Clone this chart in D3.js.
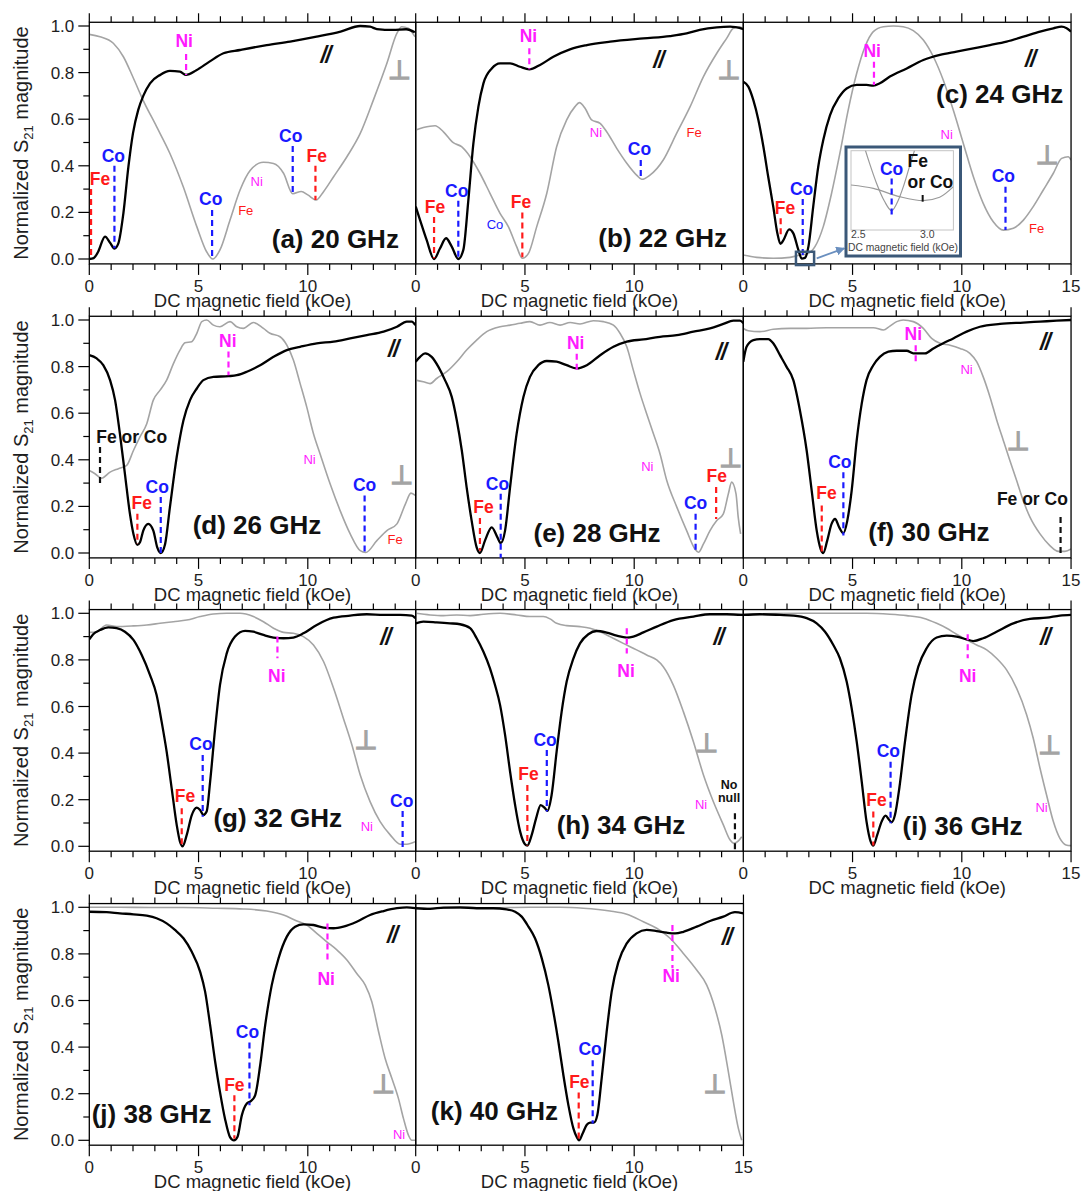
<!DOCTYPE html>
<html><head><meta charset="utf-8">
<script src="https://cdn.jsdelivr.net/npm/d3@7/dist/d3.min.js"></script>
<style>
body{margin:0;background:#fff;}
text{font-family:"Liberation Sans",Arial,Helvetica,sans-serif;}
</style>
</head><body>
<svg id="chart" width="1081" height="1191"></svg>
<script>
// ---------------- DATA ----------------
const panelLetters = ["a","b","c","d","e","f","g","h","i","j","k"];
const frequenciesGHz = [20,22,24,26,28,30,32,34,36,38,40];
const xTickValues = [0,5,10,15];
const yTickValues = [0,0.2,0.4,0.6,0.8,1.0];
const xAxisTitle = "DC magnetic field (kOe)";

// parallel (black) and perpendicular (gray) curves: [field kOe, normalized |S21|]
const par20 = [[0,0.0],[0.2,0.004],[0.4,0.03],[0.72,0.096],[0.95,0.07],[1.15,0.045],[1.33,0.067],[1.56,0.196],[1.79,0.396],[2.0,0.54],[2.24,0.64],[2.47,0.70],[2.78,0.754],[3.24,0.79],[3.69,0.807],[4.15,0.804],[4.43,0.79],[4.9,0.81],[5.5,0.847],[6.14,0.883],[6.9,0.897],[8.12,0.918],[9.19,0.933],[10.4,0.954],[11.5,0.976],[12.4,1.0],[12.85,0.997],[13.16,0.987],[13.9,0.983],[14.5,0.986],[14.9,0.973]];
const perp20 = [[0,0.964],[0.49,0.954],[1.1,0.926],[1.56,0.868],[2.0,0.78],[2.47,0.68],[3.08,0.568],[3.69,0.453],[4.3,0.31],[4.92,0.139],[5.37,0.031],[5.65,0.0],[5.98,0.039],[6.44,0.167],[6.9,0.296],[7.36,0.38],[7.97,0.415],[8.43,0.41],[8.89,0.368],[9.31,0.28],[9.7,0.29],[10.0,0.275],[10.38,0.253],[10.72,0.289],[11.18,0.353],[11.79,0.439],[12.4,0.539],[13.0,0.682],[13.62,0.84],[14.08,0.969],[14.3,0.997],[14.6,0.99],[14.9,0.954]];
const par22 = [[0,0.225],[0.2,0.167],[0.5,0.082],[0.84,0.0],[1.11,0.045],[1.39,0.089],[1.65,0.053],[1.95,0.0],[2.18,0.039],[2.41,0.253],[2.64,0.496],[2.87,0.654],[3.1,0.754],[3.48,0.818],[3.86,0.84],[4.32,0.84],[4.77,0.825],[5.2,0.814],[5.69,0.833],[6.3,0.868],[7.06,0.9],[7.83,0.918],[8.9,0.933],[10.42,0.947],[11.64,0.957],[12.4,0.968],[13.0,0.983],[13.78,0.994],[14.39,0.997],[15.0,0.987]];
const perp22 = [[0,0.554],[0.35,0.564],[0.885,0.572],[1.27,0.546],[1.72,0.499],[2.1,0.482],[2.49,0.439],[2.94,0.368],[3.4,0.282],[3.86,0.196],[4.24,0.139],[4.62,0.053],[4.88,0.003],[5.16,0.024],[5.54,0.139],[6.0,0.282],[6.45,0.482],[6.91,0.597],[7.29,0.654],[7.49,0.671],[7.75,0.647],[8.05,0.597],[8.44,0.582],[8.74,0.546],[9.2,0.475],[9.66,0.411],[10.11,0.36],[10.34,0.342],[10.72,0.36],[11.33,0.425],[11.94,0.539],[12.56,0.654],[13.17,0.783],[13.78,0.883],[14.23,0.947],[14.54,0.99],[14.84,0.997],[15,0.985]];
const par24 = [[0,0.761],[0.23,0.74],[0.46,0.682],[0.69,0.597],[0.92,0.482],[1.14,0.353],[1.37,0.225],[1.56,0.11],[1.7,0.065],[1.83,0.08],[2.1,0.127],[2.29,0.11],[2.52,0.039],[2.67,0.002],[2.82,0.005],[2.98,0.053],[3.2,0.225],[3.43,0.396],[3.66,0.511],[3.97,0.618],[4.35,0.69],[4.73,0.732],[5.19,0.747],[5.64,0.747],[5.95,0.744],[6.25,0.754],[6.71,0.783],[7.48,0.818],[8.24,0.854],[9.0,0.876],[9.76,0.89],[10.53,0.904],[11.29,0.918],[12.05,0.933],[12.82,0.954],[13.58,0.976],[14.19,0.99],[14.57,0.997],[14.8,0.99],[15.0,0.976]];
const perp24 = [[0,0.017],[0.61,0.007],[1.37,0.003],[2.14,0.007],[2.59,0.017],[2.9,0.021],[3.28,0.053],[3.66,0.139],[4.04,0.282],[4.42,0.453],[4.8,0.639],[5.19,0.797],[5.57,0.911],[5.95,0.976],[6.41,0.997],[6.87,1.0],[7.32,0.997],[7.78,0.98],[8.24,0.94],[8.7,0.868],[9.15,0.768],[9.61,0.639],[10.07,0.496],[10.53,0.353],[10.98,0.239],[11.44,0.16],[11.9,0.124],[12.36,0.132],[12.82,0.167],[13.27,0.225],[13.73,0.296],[14.19,0.368],[14.57,0.432],[14.87,0.439],[15,0.425]];
const par26 = [[0,0.849],[0.34,0.835],[0.64,0.806],[0.95,0.742],[1.18,0.656],[1.4,0.512],[1.63,0.34],[1.86,0.168],[2.02,0.082],[2.2,0.035],[2.32,0.046],[2.47,0.096],[2.7,0.125],[2.93,0.096],[3.11,0.024],[3.27,0.0],[3.47,0.039],[3.69,0.197],[4.0,0.412],[4.31,0.57],[4.61,0.656],[4.92,0.706],[5.22,0.742],[5.68,0.756],[6.37,0.759],[6.75,0.763],[7.21,0.778],[7.82,0.806],[8.43,0.842],[9.04,0.871],[9.65,0.885],[10.41,0.9],[11.18,0.907],[11.94,0.921],[12.7,0.935],[13.47,0.95],[14.08,0.971],[14.53,0.993],[14.76,0.993],[14.92,0.978]];
const perp26 = [[0,0.354],[0.26,0.34],[0.56,0.321],[0.95,0.347],[1.33,0.362],[1.71,0.376],[2.02,0.44],[2.32,0.498],[2.63,0.555],[2.93,0.656],[3.24,0.699],[3.54,0.742],[3.85,0.813],[4.15,0.871],[4.38,0.902],[4.69,0.907],[4.92,0.943],[5.15,0.993],[5.37,1.0],[5.68,0.978],[5.98,0.971],[6.44,0.993],[6.75,0.971],[7.05,0.964],[7.51,0.989],[7.97,0.964],[8.27,0.943],[8.73,0.928],[9.04,0.892],[9.34,0.828],[9.65,0.727],[9.95,0.627],[10.26,0.512],[10.56,0.426],[11.02,0.297],[11.48,0.182],[11.94,0.082],[12.4,0.01],[12.65,0.002],[13.16,0.053],[13.62,0.096],[14.08,0.125],[14.47,0.211],[14.72,0.257],[14.92,0.247]];
const par28 = [[0,0.821],[0.2,0.842],[0.43,0.857],[0.73,0.842],[1.04,0.799],[1.34,0.742],[1.65,0.67],[1.88,0.57],[2.11,0.44],[2.33,0.283],[2.56,0.139],[2.79,0.024],[2.94,0.0],[3.17,0.053],[3.48,0.11],[3.74,0.067],[3.89,0.042],[4.09,0.096],[4.32,0.283],[4.62,0.512],[4.93,0.67],[5.23,0.756],[5.61,0.806],[6.0,0.824],[6.45,0.821],[6.91,0.806],[7.37,0.792],[7.83,0.806],[8.44,0.849],[9.05,0.885],[9.66,0.907],[10.42,0.917],[11.18,0.928],[11.95,0.935],[12.71,0.95],[13.47,0.964],[14.08,0.983],[14.54,0.997],[14.84,0.997],[15,0.986]];
const perp28 = [[0,0.742],[0.35,0.735],[0.66,0.727],[0.96,0.749],[1.42,0.778],[1.88,0.821],[2.33,0.871],[2.79,0.914],[3.25,0.95],[3.86,0.971],[4.32,0.978],[4.78,0.986],[5.23,0.993],[5.69,0.978],[6.14,0.989],[6.61,0.978],[7.07,0.989],[7.52,0.983],[8.13,0.997],[8.59,0.993],[9.05,0.978],[9.35,0.943],[9.66,0.885],[9.96,0.785],[10.27,0.684],[10.57,0.598],[10.88,0.512],[11.18,0.426],[11.49,0.311],[11.95,0.197],[12.4,0.096],[12.78,0.017],[12.94,0.003],[13.17,0.039],[13.47,0.096],[13.78,0.139],[14.08,0.168],[14.31,0.254],[14.46,0.304],[14.66,0.254],[14.76,0.154],[14.87,0.082]];
const par30 = [[0,0.821],[0.15,0.885],[0.46,0.914],[0.76,0.918],[1.14,0.918],[1.37,0.9],[1.68,0.849],[1.98,0.799],[2.29,0.742],[2.59,0.613],[2.9,0.44],[3.13,0.268],[3.36,0.096],[3.54,0.017],[3.66,0.0],[3.84,0.053],[4.04,0.125],[4.2,0.146],[4.39,0.11],[4.58,0.085],[4.76,0.139],[4.96,0.268],[5.19,0.483],[5.42,0.641],[5.64,0.742],[5.95,0.806],[6.25,0.842],[6.64,0.864],[7.02,0.868],[7.48,0.868],[7.78,0.857],[8.32,0.857],[8.7,0.878],[9.15,0.9],[9.61,0.921],[10.22,0.95],[10.83,0.971],[11.75,0.983],[12.81,0.989],[13.58,0.993],[14.34,0.997],[15.0,1.0]];
const perp30 = [[0,0.964],[0.23,0.954],[0.76,0.95],[1.37,0.96],[2.14,0.964],[2.9,0.964],[3.81,0.967],[4.88,0.967],[5.95,0.967],[6.41,0.957],[6.71,0.974],[7.02,0.993],[7.32,1.0],[7.78,0.993],[8.24,0.964],[8.62,0.921],[9.0,0.9],[9.46,0.892],[9.92,0.878],[10.37,0.857],[10.68,0.821],[10.98,0.756],[11.29,0.67],[11.6,0.57],[11.9,0.483],[12.2,0.397],[12.51,0.311],[12.81,0.225],[13.12,0.154],[13.58,0.082],[14.03,0.032],[14.42,0.007],[14.72,0.007],[15,0.017]];
const par32 = [[0,0.888],[0.18,0.91],[0.49,0.928],[0.87,0.94],[1.25,0.936],[1.63,0.921],[2.02,0.886],[2.4,0.821],[2.78,0.735],[3.08,0.649],[3.31,0.535],[3.54,0.406],[3.77,0.249],[4.0,0.092],[4.15,0.02],[4.27,0.0],[4.46,0.049],[4.69,0.134],[4.92,0.166],[5.07,0.156],[5.22,0.134],[5.37,0.149],[5.53,0.278],[5.76,0.506],[5.98,0.692],[6.29,0.828],[6.67,0.9],[7.13,0.925],[7.51,0.921],[7.97,0.907],[8.43,0.896],[8.89,0.893],[9.34,0.896],[9.8,0.914],[10.41,0.95],[11.18,0.981],[11.94,0.99],[12.7,0.996],[13.47,0.993],[14.23,0.993],[14.76,0.99],[14.92,0.979]];
const perp32 = [[0,0.918],[0.34,0.921],[0.79,0.95],[1.25,0.943],[2.02,0.946],[2.63,0.95],[3.24,0.957],[3.85,0.964],[4.46,0.971],[5.07,0.986],[5.68,0.997],[6.29,1.0],[6.9,1.0],[7.51,0.986],[7.97,0.964],[8.43,0.936],[8.89,0.918],[9.34,0.914],[9.8,0.9],[10.26,0.864],[10.72,0.793],[11.18,0.678],[11.63,0.549],[12.02,0.435],[12.4,0.306],[12.85,0.192],[13.31,0.106],[13.77,0.049],[14.23,0.009],[14.53,0.009],[14.92,0.02]];
const par34 = [[0,0.957],[0.35,0.964],[0.96,0.961],[1.57,0.957],[2.03,0.953],[2.49,0.936],[2.79,0.893],[3.1,0.835],[3.4,0.764],[3.63,0.692],[3.86,0.607],[4.09,0.478],[4.32,0.32],[4.55,0.177],[4.78,0.063],[5.0,0.009],[5.11,0.003],[5.31,0.049],[5.51,0.12],[5.72,0.177],[5.92,0.163],[6.03,0.152],[6.22,0.22],[6.45,0.406],[6.68,0.578],[6.91,0.707],[7.22,0.807],[7.52,0.871],[7.9,0.91],[8.28,0.924],[8.74,0.917],[9.2,0.904],[9.66,0.896],[9.96,0.9],[10.42,0.918],[11.03,0.943],[11.79,0.971],[12.71,0.986],[13.47,0.996],[14.23,0.996],[15,0.993]];
const perp34 = [[0,1.0],[0.66,0.993],[1.27,0.99],[1.88,0.993],[2.49,0.99],[3.1,0.996],[3.86,1.0],[4.62,0.993],[5.23,0.986],[5.84,0.986],[6.15,0.976],[6.45,0.957],[6.91,0.947],[7.52,0.943],[7.98,0.936],[8.44,0.921],[8.89,0.9],[9.5,0.871],[10.11,0.843],[10.57,0.821],[11.03,0.8],[11.33,0.771],[11.79,0.692],[12.25,0.578],[12.71,0.449],[13.17,0.306],[13.62,0.192],[14.08,0.092],[14.39,0.027],[14.57,0.013],[14.77,0.023],[14.92,0.041]];
const par36 = [[0,0.993],[0.76,0.996],[1.68,0.993],[2.29,0.99],[2.9,0.979],[3.36,0.957],[3.74,0.921],[4.12,0.864],[4.42,0.807],[4.73,0.707],[4.96,0.592],[5.19,0.449],[5.42,0.278],[5.64,0.106],[5.83,0.02],[5.95,0.003],[6.13,0.049],[6.33,0.106],[6.51,0.132],[6.68,0.113],[6.79,0.103],[6.94,0.134],[7.14,0.249],[7.4,0.449],[7.7,0.649],[8.01,0.771],[8.39,0.85],[8.85,0.896],[9.31,0.904],[9.76,0.9],[10.22,0.888],[10.53,0.881],[10.98,0.893],[11.59,0.921],[12.36,0.957],[13.12,0.976],[13.88,0.981],[14.49,0.99],[15,0.993]];
const perp36 = [[0,0.996],[1.37,0.999],[2.9,1.0],[4.42,1.0],[5.64,1.0],[6.71,0.996],[7.48,0.99],[8.24,0.979],[8.85,0.957],[9.31,0.936],[9.76,0.91],[10.22,0.886],[10.68,0.864],[11.14,0.843],[11.59,0.807],[12.05,0.757],[12.51,0.678],[12.97,0.564],[13.27,0.464],[13.58,0.335],[13.88,0.22],[14.19,0.106],[14.49,0.034],[14.77,0.006],[15,0.003]];
const par38 = [[0,0.981],[0.79,0.979],[1.4,0.974],[2.02,0.97],[2.63,0.964],[3.08,0.953],[3.54,0.931],[3.92,0.903],[4.31,0.867],[4.69,0.809],[5.07,0.724],[5.3,0.638],[5.53,0.494],[5.76,0.337],[5.98,0.208],[6.21,0.093],[6.44,0.014],[6.62,0.0],[6.78,0.014],[6.98,0.107],[7.21,0.158],[7.39,0.168],[7.59,0.193],[7.82,0.322],[8.05,0.494],[8.35,0.666],[8.66,0.781],[9.04,0.874],[9.42,0.917],[9.8,0.927],[10.26,0.924],[10.72,0.913],[11.18,0.91],[11.63,0.917],[12.24,0.938],[12.85,0.967],[13.47,0.984],[14.08,0.996],[14.53,1.0],[14.92,0.996]];
const perp38 = [[0,1.0],[0.49,1.0],[0.95,1.0],[1.4,1.0],[2.78,0.999],[4.31,0.999],[5.83,0.996],[7.05,0.993],[8.12,0.984],[8.89,0.967],[9.5,0.941],[9.95,0.924],[10.41,0.888],[10.87,0.852],[11.33,0.817],[11.79,0.774],[12.24,0.716],[12.63,0.666],[12.93,0.595],[13.24,0.466],[13.54,0.351],[13.85,0.265],[14.15,0.179],[14.38,0.093],[14.61,0.021],[14.76,0.0],[14.92,0.0]];
const par40 = [[0,0.996],[0.66,0.993],[1.27,0.999],[2.03,1.0],[2.79,0.996],[3.55,0.996],[4.16,0.991],[4.55,0.981],[4.85,0.96],[5.16,0.917],[5.46,0.867],[5.77,0.781],[6.07,0.666],[6.3,0.552],[6.53,0.423],[6.76,0.279],[6.99,0.15],[7.22,0.05],[7.37,0.014],[7.48,0.0],[7.64,0.029],[7.83,0.067],[7.98,0.076],[8.16,0.076],[8.31,0.107],[8.51,0.265],[8.74,0.466],[8.97,0.638],[9.28,0.766],[9.66,0.845],[10.11,0.888],[10.57,0.903],[11.03,0.898],[11.49,0.891],[11.87,0.888],[12.25,0.895],[12.86,0.917],[13.47,0.941],[14.08,0.96],[14.61,0.979],[15,0.974]];
const perp40 = [[0,0.996],[2.03,0.996],[2.79,0.996],[4.32,0.999],[5.23,1.0],[6.61,1.0],[7.67,0.996],[8.89,0.984],[9.66,0.97],[10.42,0.938],[11.03,0.91],[11.64,0.867],[12.25,0.802],[12.86,0.731],[13.32,0.666],[13.7,0.566],[14.01,0.451],[14.31,0.294],[14.54,0.165],[14.77,0.05],[14.92,0.0]];

// resonance markers: [label, field of dashed line, line top, line bottom, label field, label baseline]
const marks20 = [["Fe",0.08,0.30,0.003,0.49,0.318],["Co",1.15,0.40,0.046,1.1,0.418],["Ni",4.43,0.88,0.79,4.34,0.911],["Co",5.62,0.21,0.0,5.56,0.232],["Co",9.31,0.485,0.28,9.22,0.504],["Fe",10.35,0.40,0.253,10.41,0.418]];
const marks22 = [["Fe",0.84,0.18,0.003,0.88,0.196],["Co",1.95,0.25,0.0,1.88,0.268],["Fe",4.88,0.20,0.007,4.82,0.217],["Ni",5.2,0.905,0.814,5.16,0.933],["Co",10.3,0.425,0.339,10.24,0.446]];
const marks24 = [["Fe",1.71,0.175,0.103,1.91,0.192],["Co",2.72,0.258,0.0,2.67,0.275],["Ni",5.98,0.847,0.747,5.9,0.868],["Co",12.0,0.31,0.124,11.9,0.332]];
const marks26 = [["Fe or Co",0.49,0.455,0.29,1.94,0.472],["Fe",2.2,0.168,0.039,2.4,0.189],["Co",3.27,0.24,0.0,3.11,0.258],["Ni",6.37,0.865,0.763,6.34,0.885],["Co",12.6,0.247,0.0,12.6,0.268]];
const marks28 = [["Fe",2.94,0.15,0.01,3.1,0.172],["Co",3.89,0.254,-0.02,3.74,0.271],["Ni",7.37,0.855,0.785,7.32,0.874],["Co",12.81,0.168,0.01,12.81,0.189],["Fe",13.75,0.283,0.146,13.78,0.304]];
const marks30 = [["Fe",3.59,0.204,0.003,3.81,0.23],["Co",4.58,0.347,0.075,4.42,0.364],["Ni",7.89,0.892,0.806,7.78,0.914],["Fe or Co",14.52,0.154,0.0,13.23,0.208]];
const marks32 = [["Fe",4.23,0.163,0.0,4.38,0.189],["Co",5.19,0.392,0.127,5.11,0.413],["Ni",8.61,0.9,0.807,8.58,0.704],["Co",14.34,0.152,-0.009,14.3,0.17]];
const marks34 = [["Fe",5.11,0.263,0.003,5.16,0.285],["Co",6.0,0.413,0.149,5.92,0.432],["Ni",9.66,0.936,0.828,9.63,0.728],["No\nnull",14.61,0.142,-0.02,14.34,0.246]];
const marks36 = [["Fe",5.95,0.149,0.003,6.1,0.175],["Co",6.74,0.363,0.099,6.64,0.385],["Ni",10.27,0.91,0.807,10.27,0.707]];
const marks38 = [["Fe",6.64,0.193,0.007,6.64,0.212],["Co",7.33,0.42,0.15,7.24,0.437],["Ni",10.9,0.931,0.759,10.84,0.666]];
const marks40 = [["Fe",7.46,0.205,0.0,7.49,0.225],["Co",8.1,0.344,0.072,7.98,0.365],["Ni",11.75,0.924,0.738,11.69,0.678]];

// small (perpendicular-curve) labels: [label, field, baseline]
const small20 = [["Ni",7.66,0.315],["Fe",7.16,0.189]];
const small22 = [["Co",3.63,0.129],["Ni",8.25,0.522],["Fe",12.74,0.525]];
const small24 = [["Ni",9.31,0.516],["Fe",13.42,0.11]];
const small26 = [["Ni",10.08,0.383],["Fe",14.0,0.039]];
const small28 = [["Ni",10.6,0.354]];
const small30 = [["Ni",10.22,0.77]];
const small32 = [["Ni",12.7,0.067]];
const small34 = [["Ni",13.06,0.16]];
const small36 = [["Ni",13.65,0.146]];
const small38 = [["Ni",14.18,0.007]];
const small40 = [];

// anchor points (field, value) of the panel title, "//" and "⊥" marks
const titleAt = [[8.35,0.046],[8.36,0.05],[8.82,0.668],[4.73,0.082],[5.39,0.046],[5.72,0.05],[5.68,0.084],[6.45,0.052],[7.29,0.049],[0.11,0.076],[0.69,0.086]];
const parSymAt = [[10.8,0.84],[11.1,0.818],[13.12,0.825],[13.9,0.842],[13.96,0.828],[13.8,0.871],[13.54,0.864],[13.85,0.864],[13.8,0.864],[13.85,0.845],[14.23,0.838]];
const perpSymAt = [[14.2,0.775],[14.34,0.775],[13.91,0.41],[14.3,0.3],[14.42,0.372],[12.59,0.448],[12.67,0.42],[13.32,0.409],[14.03,0.399],[13.47,0.208],[13.7,0.208]];

// inset of panel (c): zoom around the Co null
const insetTicks = [2.5,3.0];
const insetNull = [[2.53,0.09],[2.58,0.068],[2.63,0.048],[2.69,0.029],[2.742,0.0195],[2.79,0.03],[2.83,0.045],[2.88,0.068],[2.93,0.09]];
const insetFlat = [[2.447,0.0454],[2.609,0.042],[2.8,0.0336],[2.97,0.0296],[3.09,0.033],[3.19,0.0437]];

const parallelSeries = [par20,par22,par24,par26,par28,par30,par32,par34,par36,par38,par40];
const perpSeries = [perp20,perp22,perp24,perp26,perp28,perp30,perp32,perp34,perp36,perp38,perp40];
const markSets = [marks20,marks22,marks24,marks26,marks28,marks30,marks32,marks34,marks36,marks38,marks40];
const smallSets = [small20,small22,small24,small26,small28,small30,small32,small34,small36,small38,small40];

// ---------------- DRAW ----------------
const svg = d3.select("#chart");
svg.append("rect").attr("width",1081).attr("height",1191).attr("fill","#fff");
const colX = [89.3, 415.7, 743.3];
const rowOne = [26, 320, 613.3, 907.3];   // pixel row of value 1.0
const pxKOe = 21.85, pxUnit = 233;
const GRAY = "#a4a4a4";
const TXT = "#1e1e1e";
const elColor = {"Fe":"#ff1a1a","Co":"#1a1aff","Ni":"#ff1aff"};
const colorOf = s => elColor[s] || "#111";

const n = panelLetters.length;
for (let i = 0; i < n; i++) {
  const row = Math.floor(i/3), col = i % 3;
  const x0 = colX[col];
  const hasRight = col < 2 && i + 1 < n;
  const x = d3.scaleLinear().domain([0,15]).range([x0, x0 + 15*pxKOe]);
  const x1 = hasRight ? colX[col+1] : x(15);
  const inside = k => x(k) <= x1 + 0.05;
  const y = d3.scaleLinear().domain([0,1]).range([rowOne[row] + pxUnit, rowOne[row]]);
  const fTop = y(1.016), fBot = y(-0.021);
  const g = svg.append("g");
  const clipId = "clip" + i;
  g.append("clipPath").attr("id", clipId).append("rect")
    .attr("x", x0).attr("y", fTop).attr("width", x1 - x0).attr("height", fBot - fTop);

  const line = d3.line().x(d => x(d[0])).y(d => y(d[1])).curve(d3.curveMonotoneX);
  const cg = g.append("g").attr("clip-path", `url(#${clipId})`);
  cg.append("path").attr("d", line(perpSeries[i])).attr("fill","none")
    .attr("stroke", GRAY).attr("stroke-width", 1.6);
  cg.append("path").attr("d", line(parallelSeries[i])).attr("fill","none")
    .attr("stroke", "#000").attr("stroke-width", 2.3).attr("stroke-linejoin","round");

  // ticks
  d3.range(0, 16).filter(inside).forEach(k => {
    const major = k % 5 === 0;
    g.append("line").attr("x1", x(k)).attr("x2", x(k)).attr("y1", fBot).attr("y2", fBot + (major ? 11 : 6))
      .attr("stroke","#000").attr("stroke-width",1.2);
    g.append("line").attr("x1", x(k)).attr("x2", x(k)).attr("y1", fTop).attr("y2", fTop - (major ? 9 : 6))
      .attr("stroke","#000").attr("stroke-width",1.2);
  });
  xTickValues.filter(inside).forEach(k => {
    g.append("text").attr("x", x(k)).attr("y", fBot + 28).attr("text-anchor","middle")
      .attr("font-size", 17).attr("fill", TXT).text(k);
  });
  g.append("text").attr("x", (x0 + x1)/2).attr("y", fBot + 43).attr("text-anchor","middle")
    .attr("font-size", 18.5).attr("fill", TXT).text(xAxisTitle);

  if (col === 0) {
    d3.range(0, 11).forEach(j => {
      const v = j / 10, major = j % 2 === 0;
      g.append("line").attr("x1", x0).attr("x2", x0 - (major ? 11 : 6)).attr("y1", y(v)).attr("y2", y(v))
        .attr("stroke","#000").attr("stroke-width",1.2);
    });
    yTickValues.forEach(v => {
      g.append("text").attr("x", x0 - 15).attr("y", y(v) + 6).attr("text-anchor","end")
        .attr("font-size", 17).attr("fill", TXT).text(d3.format(".1f")(v));
    });
    const t = g.append("text").attr("transform", `translate(28,${(fTop + fBot)/2}) rotate(-90)`)
      .attr("text-anchor","middle").attr("font-size", 20).attr("fill", TXT);
    t.append("tspan").text("Normalized S");
    t.append("tspan").attr("font-size", 13).attr("dy", 5).text("21");
    t.append("tspan").attr("dy", -5).text(" magnitude");
  }

  // frame
  g.append("rect").attr("x", x0).attr("y", fTop).attr("width", x1 - x0).attr("height", fBot - fTop)
    .attr("fill","none").attr("stroke","#000").attr("stroke-width",1.3);

  // resonance markers
  markSets[i].forEach(m => {
    const [lab, xl, yt, yb, lx, ly] = m;
    const c = colorOf(lab);
    g.append("line").attr("x1", x(xl)).attr("x2", x(xl)).attr("y1", y(yt)).attr("y2", y(yb))
      .attr("stroke", c).attr("stroke-width", 2.2).attr("stroke-dasharray","6,4");
    const parts = lab.split("\n");
    const small = parts.length > 1;
    const t = g.append("text").attr("x", x(lx)).attr("y", y(ly))
      .attr("text-anchor","middle").attr("font-weight","bold")
      .attr("font-size", small ? 12.5 : 17.5).attr("fill", c);
    parts.forEach((p, k) => t.append("tspan").attr("x", x(lx)).attr("dy", k ? 13.5 : 0).text(p));
  });
  smallSets[i].forEach(s => {
    g.append("text").attr("x", x(s[1])).attr("y", y(s[2])).attr("text-anchor","middle")
      .attr("font-size", 13).attr("fill", colorOf(s[0])).text(s[0]);
  });

  // panel title, parallel & perpendicular symbols
  g.append("text").attr("x", x(titleAt[i][0])).attr("y", y(titleAt[i][1]))
    .attr("font-size", 26).attr("font-weight","bold").attr("fill","#111")
    .text(`(${panelLetters[i]}) ${frequenciesGHz[i]} GHz`);
  g.append("text").attr("x", x(parSymAt[i][0])).attr("y", y(parSymAt[i][1]))
    .attr("text-anchor","middle").attr("font-size", 23).attr("font-weight","bold")
    .attr("font-style","italic").attr("letter-spacing", -1.5).attr("fill","#111").text("//");
  g.append("text").attr("x", x(perpSymAt[i][0])).attr("y", y(perpSymAt[i][1]) + 1)
    .attr("text-anchor","middle").attr("font-size", 26)
    .style("font-family","'DejaVu Sans',sans-serif")
    .attr("fill", GRAY).attr("stroke", GRAY).attr("stroke-width", 1.6).text("\u22A5");

  // inset for (c)
  if (i === 2) {
    const ix = d3.scaleLinear().domain([2.447, 3.19]).range([851, 953.4]);
    const iy = d3.scaleLinear().domain([0, 0.08]).range([230, 150.7]);
    g.append("rect").attr("x", x(2.41)).attr("y", y(0.031)).attr("width", x(3.24) - x(2.41))
      .attr("height", y(-0.026) - y(0.031)).attr("fill","none").attr("stroke","#3b5878").attr("stroke-width",2.5);
    const defs = svg.append("defs");
    defs.append("marker").attr("id","arr").attr("viewBox","0 0 10 10").attr("refX",9).attr("refY",5)
      .attr("markerWidth",5).attr("markerHeight",5).attr("orient","auto")
      .append("path").attr("d","M0,0L10,5L0,10z").attr("fill","#6a8fbf");
    g.append("line").attr("x1", x(3.36)).attr("y1", y(0.003)).attr("x2", x(4.62)).attr("y2", y(0.046))
      .attr("stroke","#6a8fbf").attr("stroke-width",1.8).attr("marker-end","url(#arr)");
    g.append("rect").attr("x", 846).attr("y", 147).attr("width", 114.5).attr("height", 109)
      .attr("fill","#fff").attr("stroke","#3b5878").attr("stroke-width",3);
    g.append("clipPath").attr("id","insclip").append("rect").attr("x",851).attr("y",150.7)
      .attr("width", 102.4).attr("height", 79.3);
    g.append("rect").attr("x",851).attr("y",150.7).attr("width",102.4).attr("height",79.3)
      .attr("fill","none").attr("stroke","#c4c4c4").attr("stroke-width",1);
    const il = d3.line().x(d => ix(d[0])).y(d => iy(d[1])).curve(d3.curveMonotoneX);
    const ig = g.append("g").attr("clip-path","url(#insclip)");
    ig.append("path").attr("d", il(insetFlat)).attr("fill","none").attr("stroke","#9a9a9a").attr("stroke-width",1.2);
    ig.append("path").attr("d", il(insetNull)).attr("fill","none").attr("stroke","#9a9a9a").attr("stroke-width",1.2);
    insetTicks.forEach(v => g.append("text").attr("x", ix(v)).attr("y", 237.5).attr("text-anchor","middle")
      .attr("font-size", 10.5).attr("fill","#444").text(d3.format(".1f")(v)));
    g.append("text").attr("x", 903).attr("y", 251).attr("text-anchor","middle")
      .attr("font-size", 10.3).attr("fill","#444").text(xAxisTitle);
    g.append("line").attr("x1", ix(2.742)).attr("x2", ix(2.742)).attr("y1", iy(0.052)).attr("y2", iy(0.0151))
      .attr("stroke", elColor.Co).attr("stroke-width",2.2).attr("stroke-dasharray","6,4");
    g.append("text").attr("x", ix(2.742)).attr("y", iy(0.0555)).attr("text-anchor","middle")
      .attr("font-weight","bold").attr("font-size",17.5).attr("fill", elColor.Co).text("Co");
    g.append("text").attr("x", ix(2.932)).attr("y", iy(0.0639)).attr("text-anchor","middle")
      .attr("font-weight","bold").attr("font-size",17.5).attr("fill","#111").text("Fe");
    g.append("text").attr("x", ix(3.023)).attr("y", iy(0.042)).attr("text-anchor","middle")
      .attr("font-weight","bold").attr("font-size",17.5).attr("fill","#111").text("or Co");
    g.append("line").attr("x1", ix(2.967)).attr("x2", ix(2.967)).attr("y1", iy(0.0353)).attr("y2", iy(0.0286))
      .attr("stroke","#111").attr("stroke-width",2);
  }
}
</script>
</body></html>
